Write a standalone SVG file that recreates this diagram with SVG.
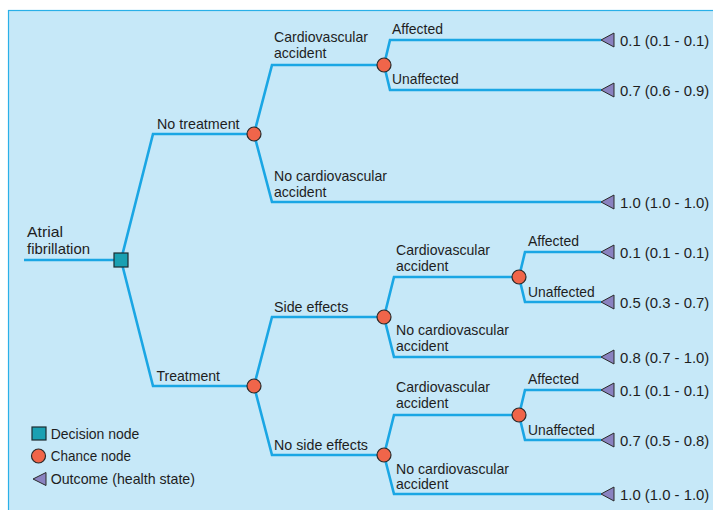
<svg xmlns="http://www.w3.org/2000/svg" width="713" height="510" viewBox="0 0 713 510">
<defs>
<style>
.bg{fill:#c6e8f8;stroke:#2ab0e8;stroke-width:1.2}
.ln{fill:none;stroke:#1aa6e4;stroke-width:2.6;stroke-linejoin:miter}
.dec{fill:#1aa0b2;stroke:#1d2b30;stroke-width:1.2}
.ch{fill:#f0654a;stroke:#2a2a2a;stroke-width:1.2}
.out{fill:#8a82c0;stroke:#2a2a2a;stroke-width:1}
text{font-family:"Liberation Sans",Arial,sans-serif;font-size:15px;fill:#1e1e1e}
.v{font-size:14.5px}
</style>
<polygon id="tri" class="out" points="0,0 13,-7 13,7"/>
</defs>
<rect class="bg" x="8.5" y="10.5" width="720" height="520"/>
<g id="connectors">
<path class="ln" d="M24,260 H121"/>
<path class="ln" d="M121,260 L153,134 H254"/>
<path class="ln" d="M121,260 L153,386 H254"/>
<path class="ln" d="M254,134 L272,65 H384"/>
<path class="ln" d="M254,134 L272,202 H601"/>
<path class="ln" d="M384,65 L390,40 H601"/>
<path class="ln" d="M384,65 L390,90 H601"/>
<path class="ln" d="M254,386 L272,317 H384"/>
<path class="ln" d="M254,386 L272,455 H384"/>
<path class="ln" d="M384,317 L394,277 H519"/>
<path class="ln" d="M384,317 L394,357 H601"/>
<path class="ln" d="M519,277 L525,252 H601"/>
<path class="ln" d="M519,277 L525,302 H601"/>
<path class="ln" d="M384,455 L394,415 H519"/>
<path class="ln" d="M384,455 L394,494 H601"/>
<path class="ln" d="M519,415 L525,390 H601"/>
<path class="ln" d="M519,415 L525,440 H601"/>
</g>
<g id="root"><text x="27" y="237" textLength="36" lengthAdjust="spacingAndGlyphs">Atrial</text><text x="27" y="254" textLength="63" lengthAdjust="spacingAndGlyphs">fibrillation</text></g>
<g id="decision"><rect class="dec" x="114" y="253" width="14" height="14"/></g>
<g id="no-treatment"><text x="157" y="129" textLength="82.6" lengthAdjust="spacingAndGlyphs">No treatment</text><circle class="ch" cx="254" cy="134" r="7"/></g>
<g id="treatment"><text x="156.5" y="381" textLength="63.5" lengthAdjust="spacingAndGlyphs">Treatment</text><circle class="ch" cx="254" cy="386" r="7"/></g>
<g id="nt-cva"><text x="274" y="42" textLength="94" lengthAdjust="spacingAndGlyphs">Cardiovascular</text><text x="274" y="58" textLength="52.4" lengthAdjust="spacingAndGlyphs">accident</text><circle class="ch" cx="384" cy="65" r="7"/></g>
<g id="nt-cva-aff"><text x="392" y="33.5" textLength="51" lengthAdjust="spacingAndGlyphs">Affected</text><use href="#tri" x="601" y="40"/><text class="v" x="620" y="45.5" textLength="89.3" lengthAdjust="spacingAndGlyphs">0.1 (0.1 - 0.1)</text></g>
<g id="nt-cva-unaff"><text x="392" y="84" textLength="66.7" lengthAdjust="spacingAndGlyphs">Unaffected</text><use href="#tri" x="601" y="90"/><text class="v" x="620" y="95.5" textLength="89.3" lengthAdjust="spacingAndGlyphs">0.7 (0.6 - 0.9)</text></g>
<g id="nt-nocva"><text x="274" y="181" textLength="113" lengthAdjust="spacingAndGlyphs">No cardiovascular</text><text x="274" y="197" textLength="52.4" lengthAdjust="spacingAndGlyphs">accident</text><use href="#tri" x="601" y="202"/><text class="v" x="620" y="207.5" textLength="89.3" lengthAdjust="spacingAndGlyphs">1.0 (1.0 - 1.0)</text></g>
<g id="se"><text x="274" y="312" textLength="74.3" lengthAdjust="spacingAndGlyphs">Side effects</text><circle class="ch" cx="384" cy="317" r="7"/></g>
<g id="se-cva"><text x="396" y="255" textLength="94" lengthAdjust="spacingAndGlyphs">Cardiovascular</text><text x="396" y="271" textLength="52.4" lengthAdjust="spacingAndGlyphs">accident</text><circle class="ch" cx="519" cy="277" r="7"/></g>
<g id="se-cva-aff"><text x="528" y="246" textLength="51" lengthAdjust="spacingAndGlyphs">Affected</text><use href="#tri" x="601" y="252"/><text class="v" x="620" y="257.5" textLength="89.3" lengthAdjust="spacingAndGlyphs">0.1 (0.1 - 0.1)</text></g>
<g id="se-cva-unaff"><text x="528" y="297" textLength="66.7" lengthAdjust="spacingAndGlyphs">Unaffected</text><use href="#tri" x="601" y="302"/><text class="v" x="620" y="307.5" textLength="89.3" lengthAdjust="spacingAndGlyphs">0.5 (0.3 - 0.7)</text></g>
<g id="se-nocva"><text x="396" y="335" textLength="113" lengthAdjust="spacingAndGlyphs">No cardiovascular</text><text x="396" y="351" textLength="52.4" lengthAdjust="spacingAndGlyphs">accident</text><use href="#tri" x="601" y="357"/><text class="v" x="620" y="362.5" textLength="89.3" lengthAdjust="spacingAndGlyphs">0.8 (0.7 - 1.0)</text></g>
<g id="nse"><text x="274" y="449.5" textLength="94" lengthAdjust="spacingAndGlyphs">No side effects</text><circle class="ch" cx="384" cy="455" r="7"/></g>
<g id="nse-cva"><text x="396" y="392" textLength="94" lengthAdjust="spacingAndGlyphs">Cardiovascular</text><text x="396" y="408" textLength="52.4" lengthAdjust="spacingAndGlyphs">accident</text><circle class="ch" cx="519" cy="415" r="7"/></g>
<g id="nse-cva-aff"><text x="528" y="384" textLength="51" lengthAdjust="spacingAndGlyphs">Affected</text><use href="#tri" x="601" y="390"/><text class="v" x="620" y="395.5" textLength="89.3" lengthAdjust="spacingAndGlyphs">0.1 (0.1 - 0.1)</text></g>
<g id="nse-cva-unaff"><text x="528" y="434.5" textLength="66.7" lengthAdjust="spacingAndGlyphs">Unaffected</text><use href="#tri" x="601" y="440"/><text class="v" x="620" y="445.5" textLength="89.3" lengthAdjust="spacingAndGlyphs">0.7 (0.5 - 0.8)</text></g>
<g id="nse-nocva"><text x="396" y="473.5" textLength="113" lengthAdjust="spacingAndGlyphs">No cardiovascular</text><text x="396" y="489" textLength="52.4" lengthAdjust="spacingAndGlyphs">accident</text><use href="#tri" x="601" y="494"/><text class="v" x="620" y="499.5" textLength="89.3" lengthAdjust="spacingAndGlyphs">1.0 (1.0 - 1.0)</text></g>
<g id="legend">
<rect class="dec" x="32" y="427" width="14" height="13"/><text x="50.7" y="438.5" textLength="88.7" lengthAdjust="spacingAndGlyphs">Decision node</text>
<circle class="ch" cx="38.5" cy="456" r="7"/><text x="50.7" y="461" textLength="80.3" lengthAdjust="spacingAndGlyphs">Chance node</text>
<polygon class="out" points="33,479 46,472.5 46,485.5"/><text x="50.7" y="483.5" textLength="144.3" lengthAdjust="spacingAndGlyphs">Outcome (health state)</text>
</g>
</svg>
